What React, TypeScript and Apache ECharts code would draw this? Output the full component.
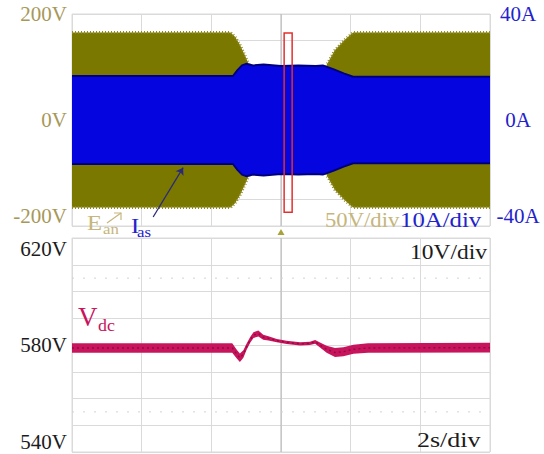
import React, { useEffect, useRef } from "react";
import * as echarts from "echarts";

// Time base: 12 s record, 2 s per division
const timeTicks = [0, 2, 4, 6, 8, 10, 12];

// Phase-a voltage E_an: peak envelope of the 50 Hz waveform (V)
const eanTime = [0, 4.55, 4.68, 4.82, 4.95, 5.1, 5.3, 7.1, 7.32, 7.55, 7.84, 8.07, 12];
const eanPeak = [165, 165, 157, 142, 124, 102, 60, 60, 105, 132, 152, 165, 165];

// Phase-a current I_as: peak envelope (A)
const iasTime = [0, 4.62, 4.75, 4.88, 5.0, 5.2, 5.5, 6.0, 6.5, 7.0, 7.2, 7.5, 7.8, 8.07, 12];
const iasPeak = [16.6, 16.6, 18.8, 20.6, 21.2, 20.6, 20.9, 20.4, 20.6, 20.4, 20.6, 19.2, 17.6, 16.3, 16.3];

// DC-link voltage V_dc: mean trace and ripple half-band (V)
const vdcTime = [0, 4.6, 4.73, 4.82, 4.92, 5.01, 5.12, 5.21, 5.35, 5.49, 5.64, 5.88, 6.16, 6.55, 6.83, 6.98, 7.12, 7.31, 7.55, 7.79, 8.08, 8.5, 12];
const vdcMean = [578.9, 578.9, 576.6, 575.2, 576.6, 579.3, 582.0, 583.7, 584.3, 582.9, 582.5, 581.6, 581.0, 580.4, 580.6, 581.2, 580.0, 578.4, 577.2, 577.5, 578.4, 578.9, 579.0];
const vdcRipple = [1.8, 1.8, 1.6, 1.6, 1.4, 1.2, 1.1, 1.1, 1.1, 0.9, 0.8, 0.6, 0.6, 0.6, 0.6, 0.7, 0.9, 1.3, 1.7, 1.7, 1.7, 1.8, 1.8];

// Axis ranges and tick labels
const voltRange = [-200, 200];
const ampRange = [-40, 40];
const dcRange = [540, 620];
const voltLabels = [-200, 0, 200];
const ampLabels = [-40, 0, 40];
const dcLabels = [540, 580, 620];
const dcReference = [555, 605];

// Zoom window marker (s, V) and trigger instant (s)
const windowStart = [6.09, 164];
const windowEnd = [6.32, -174];
const triggerTime = 6;

const SERIF = "'Liberation Serif', 'Times New Roman', Times, serif";
const OLIVE = "#7b7800";
const OLIVE_EDGE = "#8f8a26";
const OLIVE_TEXT = "#a89858";
const OLIVE_LIGHT = "#c6b67c";
const BLUE = "#0505e0";
const BLUE_EDGE = "#00007e";
const BLUE_TEXT = "#2323cc";
const CRIMSON = "#c8145c";
const GRID = "#dadada";

function band(
  xAxisIndex: number,
  yAxisIndex: number,
  t: number[],
  upper: number[],
  lower: number[],
  color: string,
  z: number
) {
  return {
    type: "custom",
    xAxisIndex,
    yAxisIndex,
    z,
    silent: true,
    clip: true,
    data: [[t[0], upper[0]]],
    renderItem: (_p: any, api: any) => {
      const top = t.map((ti, i) => api.coord([ti, upper[i]]));
      const bot = t.map((ti, i) => api.coord([ti, lower[i]])).reverse();
      return {
        type: "polygon",
        shape: { points: top.concat(bot) },
        style: { fill: color },
      };
    },
  };
}

function edge(
  xAxisIndex: number,
  yAxisIndex: number,
  t: number[],
  v: number[],
  lineStyle: any,
  z: number
) {
  return {
    type: "line",
    xAxisIndex,
    yAxisIndex,
    z,
    silent: true,
    showSymbol: false,
    data: t.map((ti, i) => [ti, v[i]]),
    lineStyle,
  };
}

function labelFormatter(keep: number[], unit: string) {
  return (v: number) => (keep.includes(v) ? `${v}${unit}` : "");
}

function text(x: number, y: number, s: string, size: number, fill: string, scaleX = 1.12) {
  return {
    type: "text",
    x,
    y,
    scaleX,
    z: 20,
    style: {
      text: s,
      fontSize: size,
      fontFamily: SERIF,
      fill,
      verticalAlign: "middle",
    },
  };
}

export default function App() {
  const ref = useRef<HTMLDivElement>(null);

  useEffect(() => {
    if (!ref.current) return;
    const chart = echarts.init(ref.current, null, { renderer: "svg" });

    const xBase = {
      type: "value",
      min: timeTicks[0],
      max: timeTicks[timeTicks.length - 1],
      interval: timeTicks[1] - timeTicks[0],
      axisLine: { show: false },
      axisTick: { show: false },
      axisLabel: { show: false },
      splitLine: { show: true, lineStyle: { color: GRID, width: 1 } },
    };

    const labelBase = {
      fontFamily: SERIF,
      fontSize: 21,
    };

    const guide = { color: "#b4b4b4", width: 1, type: "solid" };
    const dotted = { color: "#d2d2d2", width: 1, type: [2, 9] };
    const tFirst = timeTicks[0];
    const tLast = timeTicks[timeTicks.length - 1];

    const option: any = {
      animation: false,
      backgroundColor: "#ffffff",
      grid: [
        { left: 72, right: 54, top: 14, height: 212, show: true, borderColor: GRID, borderWidth: 1 },
        { left: 72, right: 54, top: 238, height: 214, show: true, borderColor: GRID, borderWidth: 1 },
      ],
      xAxis: [
        { ...xBase, gridIndex: 0 },
        { ...xBase, gridIndex: 1 },
      ],
      yAxis: [
        {
          gridIndex: 0,
          type: "value",
          min: voltRange[0],
          max: voltRange[1],
          interval: 50,
          axisLine: { show: false },
          axisTick: { show: false },
          splitLine: { show: true, lineStyle: { color: GRID } },
          axisLabel: {
            ...labelBase,
            color: OLIVE_TEXT,
            margin: 5,
            formatter: labelFormatter(voltLabels, "V"),
            verticalAlignMinLabel: "bottom",
            verticalAlignMaxLabel: "middle",
          },
        },
        {
          gridIndex: 0,
          type: "value",
          position: "right",
          min: ampRange[0],
          max: ampRange[1],
          interval: 10,
          axisLine: { show: false },
          axisTick: { show: false },
          splitLine: { show: false },
          axisLabel: {
            ...labelBase,
            color: BLUE_TEXT,
            margin: 28,
            align: "center",
            formatter: labelFormatter(ampLabels, "A"),
            verticalAlignMinLabel: "bottom",
            verticalAlignMaxLabel: "middle",
          },
        },
        {
          gridIndex: 1,
          type: "value",
          min: dcRange[0],
          max: dcRange[1],
          interval: 10,
          axisLine: { show: false },
          axisTick: { show: false },
          splitLine: { show: true, lineStyle: { color: GRID } },
          axisLabel: {
            ...labelBase,
            color: "#1c1c1c",
            margin: 5,
            formatter: labelFormatter(dcLabels, "V"),
            verticalAlignMinLabel: "bottom",
            verticalAlignMaxLabel: "top",
          },
        },
      ],
      series: [
        // trigger guide lines and dotted reference levels, beneath the traces
        edge(0, 0, [triggerTime, triggerTime], voltRange, guide, 1),
        edge(1, 2, [triggerTime, triggerTime], dcRange, guide, 1),
        edge(1, 2, [tFirst, tLast], [dcReference[0], dcReference[0]], dotted, 1),
        edge(1, 2, [tFirst, tLast], [dcReference[1], dcReference[1]], dotted, 1),
        // E_an envelope
        band(0, 0, eanTime, eanPeak, eanPeak.map((v) => -v), OLIVE, 6),
        edge(0, 0, eanTime, eanPeak, { color: OLIVE_EDGE, width: 3, type: [1, 2] }, 6),
        edge(0, 0, eanTime, eanPeak.map((v) => -v), { color: OLIVE_EDGE, width: 3, type: [1, 2] }, 6),
        // I_as envelope
        band(0, 1, iasTime, iasPeak, iasPeak.map((v) => -v), BLUE, 7),
        edge(0, 1, iasTime, iasPeak, { color: BLUE_EDGE, width: 2 }, 7),
        edge(0, 1, iasTime, iasPeak.map((v) => -v), { color: BLUE_EDGE, width: 2 }, 7),
        // V_dc trace
        band(
          1,
          2,
          vdcTime,
          vdcMean.map((v, i) => v + vdcRipple[i]),
          vdcMean.map((v, i) => v - vdcRipple[i]),
          CRIMSON,
          7
        ),
        edge(1, 2, vdcTime, vdcMean, { color: "#8e0c42", width: 1.4, type: [2, 3] }, 7),
        // window marker, trigger mark and I_as pointer, above the traces
        {
          type: "line",
          xAxisIndex: 0,
          yAxisIndex: 0,
          z: 12,
          silent: true,
          data: [],
          markArea: {
            z: 12,
            silent: true,
            itemStyle: { color: "rgba(0,0,0,0)", borderColor: "#e23030", borderWidth: 1.5 },
            label: { show: false },
            data: [[{ coord: windowStart }, { coord: windowEnd }]],
          },
          markLine: {
            z: 12,
            silent: true,
            symbol: ["none", "arrow"],
            symbolSize: 7,
            label: { show: false },
            lineStyle: { color: "#2a2a78", width: 1.3, type: "solid" },
            data: [[{ coord: [2.33, -183] }, { coord: [3.19, -90] }]],
          },
          markPoint: {
            z: 12,
            silent: true,
            label: { show: false },
            data: [
              {
                coord: [triggerTime, voltRange[0]],
                symbol: "triangle",
                symbolSize: [7, 6],
                symbolOffset: [0, 6],
                itemStyle: { color: "#a9a23a" },
              },
            ],
          },
        },
      ],
      graphic: [
        text(87, 222, "E", 22, OLIVE_LIGHT),
        text(103, 229, "an", 15, OLIVE_LIGHT),
        { type: "line", z: 20, shape: { x1: 107, y1: 223, x2: 121, y2: 213 }, style: { stroke: OLIVE_LIGHT, lineWidth: 1.2 } },
        { type: "polyline", z: 20, shape: { points: [[114, 213], [121, 213], [121, 220]] }, style: { stroke: OLIVE_LIGHT, lineWidth: 1.2, fill: null } },
        text(131, 225, "I", 22, BLUE_TEXT),
        text(137, 232, "as", 15, BLUE_TEXT),
        text(325, 220, "50V/div", 21, OLIVE_LIGHT, 1.08),
        text(400, 220, "10A/div", 21, BLUE_TEXT, 1.18),
        text(410, 252, "10V/div", 21, "#1c1c1c", 1.12),
        text(417, 440, "2s/div", 22, "#1c1c1c", 1.18),
        text(78, 317, "V", 27, CRIMSON, 1.0),
        text(98, 325, "dc", 17, CRIMSON, 1.05),
      ],
    };

    chart.setOption(option);
    return () => chart.dispose();
  }, []);

  return (
    <div
      ref={ref}
      style={{ position: "fixed", left: 0, top: 0, width: 544, height: 454, background: "#fff" }}
    />
  );
}
